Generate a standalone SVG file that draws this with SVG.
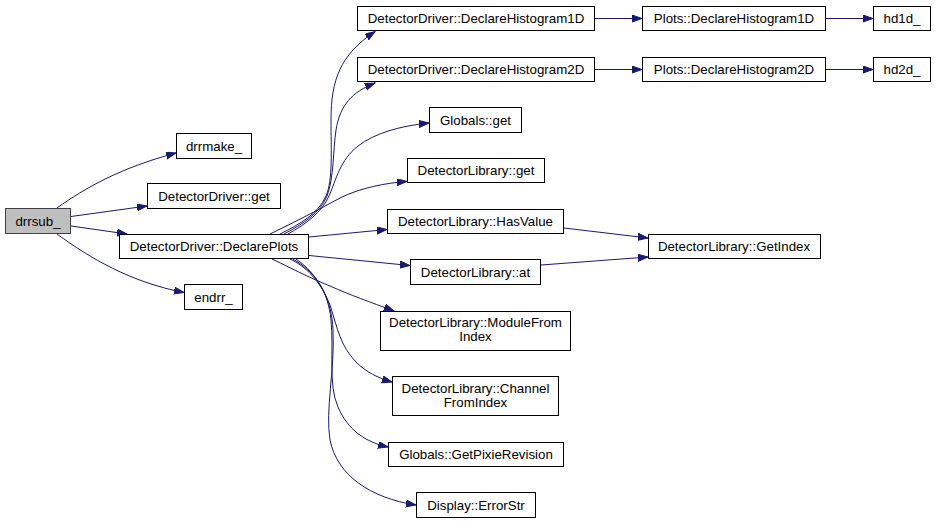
<svg xmlns="http://www.w3.org/2000/svg" width="936" height="524" viewBox="0 0 936 524">
<style>
.n rect{fill:#fff;stroke:#000;stroke-width:1}
.n.root rect{fill:#bfbfbf;stroke:#404040}
.n text{font-family:"Liberation Sans",Arial,Helvetica,sans-serif;font-size:13.3px;fill:#000;text-anchor:middle}
.e path{fill:none;stroke:#191970;stroke-width:1;marker-end:url(#ah)}
</style>
<defs>
<marker id="ah" markerUnits="userSpaceOnUse" markerWidth="11" markerHeight="8" refX="10" refY="3.5" orient="auto" viewBox="0 0 11 8">
<path d="M0,0 L10,3.5 L0,7 z" fill="#191970" stroke="#191970" stroke-width="1"/>
</marker>
</defs>
<rect width="936" height="524" fill="#fff"/>
<g id="edges" class="e">
<path d="M57,208 C85,188 120,168 176,153"/>
<path d="M71,216.5 L147,206"/>
<path d="M71,226 L127,234"/>
<path d="M57,234 C90,258 130,282 184,292.5"/>
<path d="M280,234 C300,224 318,214 326,196 C333,180 331,150 331,120 C331,80 340,55 375,31.5"/>
<path d="M284,234 C303,224 320,213 327,196 C334,178 333,150 336,130 C340,105 352,92 375,83"/>
<path d="M288,234 C306,224 322,212 329,196 C336,180 340,160 358,146 C375,133 400,126 429,123"/>
<path d="M270,234 C295,222 318,210 340,198 C360,188 385,183 407,181.5"/>
<path d="M309,237 L387,229.5"/>
<path d="M309,255.5 L410,265.5"/>
<path d="M272,259 C295,270 310,278 330,286 C350,295 370,302 394,311"/>
<path d="M290,259 C305,266 320,280 330,305 C338,330 340,345 356,362 C366,372 378,378 392,382"/>
<path d="M293,259 C315,272 328,290 331,320 C334,350 328,385 338,407 C348,430 365,442 388,447"/>
<path d="M296,259 C318,274 332,300 333,330 C335,370 325,410 330,440 C337,475 370,498 416,505"/>
<path d="M595,18.5 L642,18.5"/>
<path d="M826,18.5 L873,18.5"/>
<path d="M595,69.5 L642,69.5"/>
<path d="M826,69.5 L873,69.5"/>
<path d="M564,228 L648,238"/>
<path d="M541,265 L648,257"/>
</g>
<g id="drrsub" class="n root"><rect x="5.5" y="208.5" width="65" height="25"/><text x="38" y="225.5">drrsub_</text></g>
<g id="drrmake" class="n"><rect x="176.5" y="133.5" width="75" height="25"/><text x="214" y="150.5">drrmake_</text></g>
<g id="ddget" class="n"><rect x="147.5" y="183.5" width="133" height="25"/><text x="214" y="200.5">DetectorDriver::get</text></g>
<g id="declareplots" class="n"><rect x="119.5" y="234.5" width="189" height="24"/><text x="214" y="251">DetectorDriver::DeclarePlots</text></g>
<g id="endrr" class="n"><rect x="184.5" y="284.5" width="58" height="25"/><text x="213.5" y="301.5">endrr_</text></g>
<g id="ddh1d" class="n"><rect x="357.5" y="6.5" width="237" height="24"/><text x="476" y="23">DetectorDriver::DeclareHistogram1D</text></g>
<g id="ddh2d" class="n"><rect x="357.5" y="57.5" width="237" height="24"/><text x="476" y="74">DetectorDriver::DeclareHistogram2D</text></g>
<g id="globalsget" class="n"><rect x="429.5" y="107.5" width="92" height="25"/><text x="475.5" y="124.5">Globals::get</text></g>
<g id="dlget" class="n"><rect x="407.5" y="158.5" width="137" height="24"/><text x="476" y="175">DetectorLibrary::get</text></g>
<g id="hasvalue" class="n"><rect x="387.5" y="209.5" width="176" height="24"/><text x="475.5" y="226">DetectorLibrary::HasValue</text></g>
<g id="dlat" class="n"><rect x="410.5" y="259.5" width="130" height="25"/><text x="475.5" y="276.5">DetectorLibrary::at</text></g>
<g id="modulefromindex" class="n"><rect x="380.5" y="311.5" width="190" height="39"/><text x="475.5" y="327">DetectorLibrary::ModuleFrom</text><text x="475.5" y="341">Index</text></g>
<g id="channelfromindex" class="n"><rect x="392.5" y="376.5" width="166" height="39"/><text x="475.5" y="393">DetectorLibrary::Channel</text><text x="475.5" y="407">FromIndex</text></g>
<g id="pixierevision" class="n"><rect x="388.5" y="442.5" width="175" height="24"/><text x="476" y="459">Globals::GetPixieRevision</text></g>
<g id="errorstr" class="n"><rect x="416.5" y="492.5" width="119" height="25"/><text x="476" y="509.5">Display::ErrorStr</text></g>
<g id="plots1d" class="n"><rect x="642.5" y="6.5" width="183" height="24"/><text x="734" y="23">Plots::DeclareHistogram1D</text></g>
<g id="plots2d" class="n"><rect x="642.5" y="57.5" width="183" height="24"/><text x="734" y="74">Plots::DeclareHistogram2D</text></g>
<g id="hd1d" class="n"><rect x="873.5" y="6.5" width="57" height="24"/><text x="902" y="23">hd1d_</text></g>
<g id="hd2d" class="n"><rect x="873.5" y="57.5" width="57" height="24"/><text x="902" y="74">hd2d_</text></g>
<g id="getindex" class="n"><rect x="648.5" y="234.5" width="172" height="24"/><text x="734" y="251">DetectorLibrary::GetIndex</text></g>
</svg>
